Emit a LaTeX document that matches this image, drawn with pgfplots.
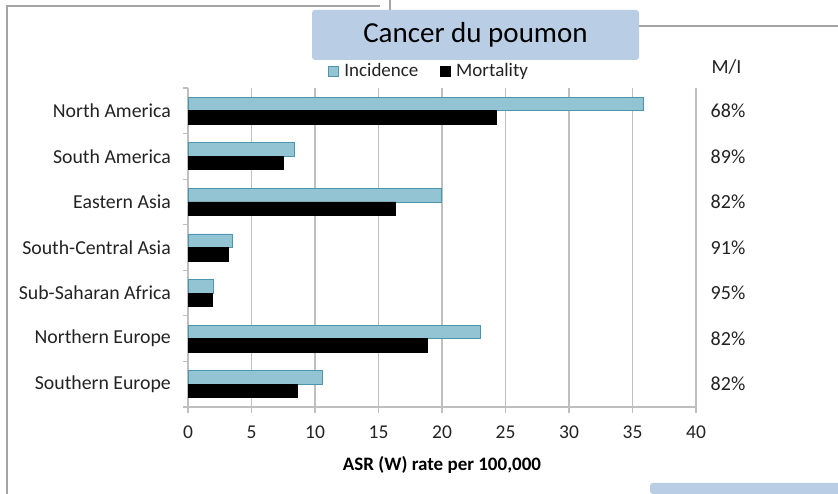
\documentclass[border=0pt]{standalone}
\usepackage{pgfplots}
\pgfplotsset{compat=1.18}
\usepackage{fontspec}
\setmainfont{Carlito}
\definecolor{incfill}{RGB}{146,196,211}
\definecolor{incdraw}{RGB}{75,150,172}
\definecolor{boxblue}{RGB}{185,205,229}
\definecolor{framegray}{RGB}{165,165,165}
\definecolor{gridgray}{RGB}{191,191,191}
\definecolor{txt}{RGB}{35,35,35}
\begin{document}
\begin{tikzpicture}
\useasboundingbox (0,0) rectangle (838pt,494pt);
\fill[white] (0,0) rectangle (838pt,494pt);
\draw[framegray, line width=2.5pt] (7pt,0) -- (7pt,488pt) -- (380pt,488pt);
\draw[framegray, line width=2.5pt] (390pt,494pt) -- (390pt,468pt) -- (838pt,468pt);
\fill[boxblue, rounded corners=3pt] (650pt,0pt) rectangle (860pt,11pt);
\begin{axis}[
  at={(188pt,87pt)}, anchor=south west,
  scale only axis, width=508pt, height=319pt,
  xbar, bar width=13.5pt,
  xmin=0, xmax=40, ymin=-0.5, ymax=6.5,
  axis x line*=bottom, axis y line*=left,
  axis line style={gridgray, line width=1.2pt},
  xtick={0,5,...,40},
  xmajorgrids, grid style={gridgray, line width=1.2pt},
  tick align=outside,
  major tick length=6pt, minor tick length=5pt,
  tick style={gridgray, line width=1.2pt},
  ytick={0,...,6},
  minor ytick={-0.5,0.5,...,6.5},
  yticklabels={Southern Europe, Northern Europe, Sub-Saharan Africa, South-Central Asia, Eastern Asia, South America, North America},
  major y tick style={draw=none},
  yticklabel style={font=\fontsize{19.8}{23}\selectfont, text=txt, anchor=east, inner sep=0pt, xshift=-11pt},
  xticklabel style={font=\fontsize{19.5}{23}\selectfont, text=txt, yshift=-9pt},
  /pgf/number format/assume math mode=true,
  xlabel={ASR (W) rate per 100,000},
  xlabel style={font=\bfseries\fontsize{19}{22}\selectfont, text=black, at={(axis description cs:0.5,-0.182)}, anchor=center},
  clip=false,
  legend columns=2,
  legend style={at={(axis description cs:0.475,1.053)}, anchor=center, draw=none, fill=none, inner sep=0pt,
    font=\fontsize{19}{22}\selectfont, text=txt,
    nodes={inner sep=2.5pt},
    /tikz/every odd column/.append style={column sep=3pt},
    /tikz/every even column/.append style={column sep=19pt}},
  legend image code/.code={\draw[#1, line width=0.8pt] (0pt,-5pt) rectangle (10pt,5pt);},
]
\addplot[fill=incfill, draw=incdraw, line width=0.8pt, bar shift=6.75pt] coordinates {
  (10.55,0) (23.05,1) (2.0,2) (3.5,3) (19.95,4) (8.4,5) (35.85,6)};
\addlegendentry{Incidence}
\addplot[fill=black, draw=black, line width=0.8pt, bar shift=-6.75pt] coordinates {
  (8.6,0) (18.85,1) (1.9,2) (3.2,3) (16.35,4) (7.5,5) (24.25,6)};
\addlegendentry{Mortality}
\begin{scope}[every node/.style={font=\fontsize{20}{24}\selectfont, text=txt}]
\node at (axis cs:42.4,6.96) {M/I};
\node at (axis cs:42.52,6) {68\%};
\node at (axis cs:42.52,5) {89\%};
\node at (axis cs:42.52,4) {82\%};
\node at (axis cs:42.52,3) {91\%};
\node at (axis cs:42.52,2) {95\%};
\node at (axis cs:42.52,1) {82\%};
\node at (axis cs:42.52,0) {82\%};
\end{scope}
\end{axis}
\node[fill=boxblue, rounded corners=3pt, minimum width=327pt, minimum height=50pt, inner sep=0pt, font=\fontsize{29}{34}\selectfont] at (475.5pt,459pt) {Cancer du poumon};
\end{tikzpicture}
\end{document}
